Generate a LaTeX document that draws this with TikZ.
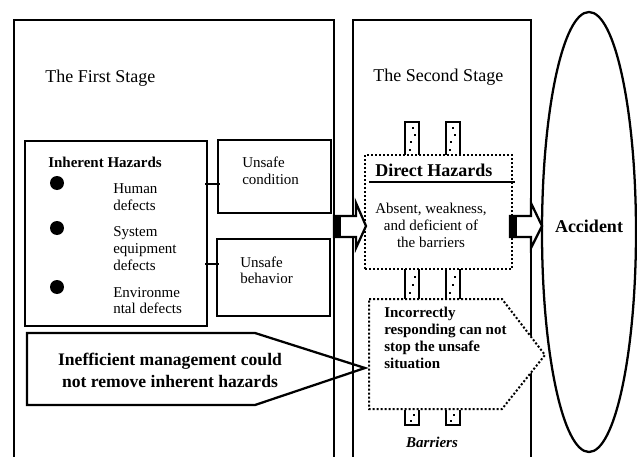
\documentclass[tikz,border=0pt]{standalone}
\usepackage{fontspec}
\setmainfont{Liberation Serif}
\usetikzlibrary{fit,shapes.geometric}

\newcommand\txtsmall{\fontsize{11.25}{12.75}\selectfont}
\newcommand\txtbig{\fontsize{13.5}{15}\selectfont}
\newcommand\txtmid{\fontsize{13.2}{15}\selectfont}

\begin{document}
\begin{tikzpicture}[x=0.75pt,y=-0.75pt,
  frame/.style={line width=1.7pt},
  dotline/.style={line width=1.5pt, dash pattern=on 1.5pt off 1.5pt},
  boxnode/.style={frame, draw, inner sep=0pt},
  dotnode/.style={dotline, draw, fill=white, inner sep=0pt},
  lbl/.style={inner sep=0pt, anchor=base west, font=\txtsmall},
  postline/.style={line width=1.9pt},
  postdot/.style={fill=black},
  blockarrow/.style={frame, fill=white, line join=miter}
]
\useasboundingbox (0,0) rectangle (637,457);

% the two stage frames (open at the bottom edge)
\draw[frame] (14,457) -- (14,20) -- (334,20) -- (334,457);
\draw[frame] (353,457) -- (353,20) -- (531,20) -- (531,457);

\node[lbl, font=\txtbig] (stage1) at (45,82) {The First Stage};
\node[lbl, font=\txtbig] (stage2) at (373,81) {The Second Stage};

% ---- first stage ----
\node[boxnode, fit={(25,141) (207,326)}] (inh) {};
\node[boxnode, fit={(218,140) (331,213)}] (ucond) {};
\node[boxnode, fit={(217,239) (330,316)}] (ubeh) {};

\node[lbl, font=\txtsmall\bfseries] (inhtitle) at (48,167) {Inherent Hazards};
\fill (57,183) circle (7);
\fill (57,228) circle (7);
\fill (57,287) circle (7);
\node[lbl] (human1) at (113,193) {Human};
\node[lbl] (human2) at (113,210) {defects};
\node[lbl] (sys1) at (113,236) {System};
\node[lbl] (sys2) at (113,253) {equipment};
\node[lbl] (sys3) at (113,270) {defects};
\node[lbl] (env1) at (113,297) {Environme};
\node[lbl] (env2) at (113,313) {ntal defects};

\node[lbl] (uc1) at (242,167) {Unsafe};
\node[lbl] (uc2) at (242,184) {condition};
\node[lbl] (ub1) at (240,267) {Unsafe};
\node[lbl] (ub2) at (240,283) {behavior};

\coordinate (linkA) at (0,184);
\coordinate (linkB) at (0,264);
\draw[frame, shorten <=-2pt, shorten >=-2pt] (inh.east |- linkA) -- (ucond.west |- linkA);
\draw[frame, shorten <=-2pt, shorten >=-2pt] (inh.east |- linkB) -- (ubeh.west |- linkB);

% management callout
\draw[frame, line join=miter] (27,333) -- (255,333) -- (365,368) -- (255,405) -- (27,405) -- cycle;
\node[inner sep=0pt, anchor=base, font=\txtmid\bfseries] (mgmt1) at (170,365) {Inefficient management could};
\node[inner sep=0pt, anchor=base, font=\txtmid\bfseries] (mgmt2) at (170,387) {not remove inherent hazards};

% ---- second stage ----
% barrier posts, upper part
\draw[postline] (405,155) -- (405,122) -- (419,122) -- (419,155);
\draw[postline] (446,155) -- (446,122) -- (460,122) -- (460,155);
\foreach \px/\py in {413/128, 415/135, 411/142, 410/150}{
  \fill[postdot] (\px-1.3,\py-1.3) rectangle ++(2.6,2.6);
  \fill[postdot] (\px+40-1.3,\py-1.3) rectangle ++(2.6,2.6);
}

\node[dotnode, fit={(365,155) (512,269)}] (direct) {};
\draw[frame] (369,182) -- (515,182);
\node[lbl, font=\txtbig\bfseries] (dhtitle) at (375,176) {Direct Hazards};
\node[inner sep=0pt, anchor=base] (dh1) at (431,213) {\txtsmall Absent, weakness,};
\node[inner sep=0pt, anchor=base] (dh2) at (431,230) {\txtsmall and deficient of};
\node[inner sep=0pt, anchor=base] (dh3) at (431,247) {\txtsmall the barriers};

% barrier posts, middle part
\draw[postline] (405,269) -- (405,299);
\draw[postline] (419,269) -- (419,299);
\draw[postline] (446,269) -- (446,299);
\draw[postline] (460,269) -- (460,299);
\foreach \px/\py in {415/277, 413/285, 410/293}{
  \fill[postdot] (\px-1.3,\py-1.3) rectangle ++(2.6,2.6);
  \fill[postdot] (\px+40-1.3,\py-1.3) rectangle ++(2.6,2.6);
}

% response callout
\draw[dotline, fill=white] (369,299) -- (502,299) -- (545,355) -- (502,409) -- (369,409) -- cycle;
\node[lbl, font=\txtsmall\bfseries] (resp1) at (384,317) {Incorrectly};
\node[lbl, font=\txtsmall\bfseries] (resp2) at (384,334) {responding can not};
\node[lbl, font=\txtsmall\bfseries] (resp3) at (384,351) {stop the unsafe};
\node[lbl, font=\txtsmall\bfseries] (resp4) at (384,368) {situation};

% barrier posts, lower part
\draw[postline] (405,410) -- (405,425) -- (419,425) -- (419,410);
\draw[postline] (446,410) -- (446,425) -- (460,425) -- (460,410);
\foreach \px/\py in {414/415, 411/421}{
  \fill[postdot] (\px-1.3,\py-1.3) rectangle ++(2.6,2.6);
  \fill[postdot] (\px+40-1.3,\py-1.3) rectangle ++(2.6,2.6);
}
\node[inner sep=0pt, anchor=base, font=\txtsmall\bfseries\itshape] (barriers) at (432,447) {Barriers};

% ---- accident ----
\node[draw, ellipse, line width=1.7pt, inner sep=0pt,
      minimum width=70.5pt, minimum height=330pt] (acc) at (589,232) {};
\node[inner sep=0pt, anchor=base, font=\txtbig\bfseries] (acctext) at (589,232) {Accident};

% block arrows between the stages
\draw[blockarrow] (334,216) -- (356,216) -- (356,203) -- (366,226) -- (356,248) -- (356,237) -- (334,237) -- cycle;
\fill (334,216) rectangle (341,237);
\draw[blockarrow] (510,216) -- (531,216) -- (531,203) -- (542,226) -- (531,248) -- (531,237) -- (510,237) -- cycle;
\fill (510,216) rectangle (517,237);
\end{tikzpicture}
\end{document}
